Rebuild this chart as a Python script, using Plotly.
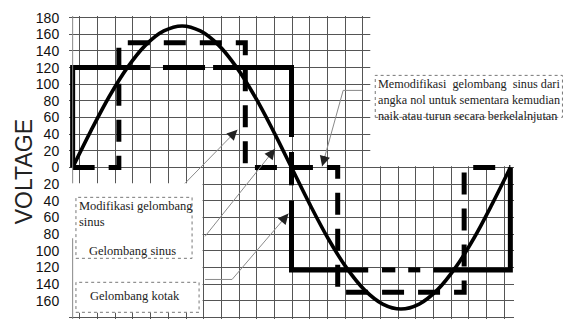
import plotly.graph_objects as go

# phase in degrees, voltage in volts
sine_deg = [0, 15, 30, 45, 60, 75, 90, 105, 120, 135, 150, 165, 180,
            195, 210, 225, 240, 255, 270, 285, 300, 315, 330, 345, 360]
sine_v = [0, 44, 85, 120, 147, 164, 170, 164, 147, 120, 85, 44, 0,
          -44, -85, -120, -147, -164, -170, -164, -147, -120, -85, -44, 0]

# modified sine (stepped), dashed
mod_deg = [0, 38, 38, 142, 142, 218, 218, 322, 322, 360]
mod_v = [0, 0, 150, 150, 0, 0, -150, -150, 0, 0]

# square wave, solid (the scan has small breaks in it)
sq_deg = [0, 0, 63.6, None, 74.3, 108.9, None, 115.5, 180, 180, None, 180, 180, None,
          180, 180, 243.1, None, 254.4, 265.4, None, 276, 285.9, None, 296.6, 360, 360]
sq_v = [0, 120, 120, None, 120, 120, None, 120, 120, 36.6, None, 18.6, -21.4, None,
        -39.5, -123, -123, None, -123, -123, None, -123, -123, None, -123, -123, 0]

y_ticks = list(range(-180, 181, 20))
y_labels = [str(abs(v)) for v in y_ticks]

W, H = 571, 323
ML, MR, MT, MB = 69.06, 57.4, 15.6, 4.3
PW, PH = W - ML - MR, H - MT - MB


def px(x):
    return (x - ML) / PW


def py(y):
    return (H - MB - y) / PH


fig = go.Figure()
fig.add_trace(go.Scatter(x=sine_deg, y=sine_v, mode='lines', line=dict(color='black', width=3.6, shape='spline'),
                         showlegend=False, hoverinfo='skip'))
fig.add_trace(go.Scatter(x=mod_deg, y=mod_v, mode='lines', line=dict(color='black', width=5, dash='22px,14px'),
                         showlegend=False, hoverinfo='skip'))
fig.add_trace(go.Scatter(x=sq_deg, y=sq_v, mode='lines', line=dict(color='black', width=5),
                         connectgaps=False, showlegend=False, hoverinfo='skip'))

# blank areas where the scanned grid is cut away
blank = dict(type='rect', xref='x', yref='y', fillcolor='white', line=dict(width=0), layer='between')
fig.add_shape(x0=244.8, x1=380, y0=1.5, y1=190, **blank)
fig.add_shape(x0=-10, x1=106.9, y0=-174.5, y1=-19, **blank)

# left border bits
edge = dict(type='line', xref='x', yref='y', line=dict(color='#888', width=1))
fig.add_shape(x0=0, x1=0, y0=-19, y1=182, **edge)
fig.add_shape(x0=0, x1=0, y0=-85, y1=-182, **edge)

# dotted caption boxes
box = dict(type='rect', xref='paper', yref='paper', line=dict(color='#777', width=1, dash='dot'), layer='above')
fig.add_shape(x0=px(76), x1=px(192), y0=py(258), y1=py(197), **box)
fig.add_shape(x0=px(76), x1=px(199), y0=py(312), y1=py(282), **box)
fig.add_shape(x0=px(375), x1=px(562), y0=py(117), y1=py(75), **box)

# leader lines (thin grey)
lead = dict(type='path', xref='x', yref='y', line=dict(color='#8a8a8a', width=1), layer='above')
fig.add_shape(path='M 92.4,-19 L 135.5,45.3', **lead)
fig.add_shape(path='M 108.9,-82.7 L 166.5,22.5', **lead)
fig.add_shape(path='M 108.9,-134.5 L 131.1,-134.5 L 177.5,-55.4', **lead)
fig.add_shape(path='M 238.2,92.6 L 222.5,92.6 L 205.2,1.4', **lead)

# arrow heads
for hx, hy, ax, ay in [(135.5, 45.3, -8.4, 8.6), (166.5, 22.5, -7.5, 9.4),
                       (177.5, -55.4, -7.8, 9.1), (205.2, 1.4, 3.2, -11.6)]:
    fig.add_annotation(x=hx, y=hy, xref='x', yref='y', ax=ax, ay=ay, text='', showarrow=True,
                       arrowhead=2, arrowsize=1.6, arrowwidth=1.3, arrowcolor='#222')

serif = dict(family='Liberation Serif, Times New Roman, serif', color='#222')
fig.add_annotation(x=px(77), y=py(197), xref='paper', yref='paper', xanchor='left', yanchor='top',
                   text='Modifikasi gelombang<br>sinus', align='left', showarrow=False,
                   font=dict(size=12.5, **serif))
fig.add_annotation(x=px(87), y=py(251), xref='paper', yref='paper', xanchor='left', yanchor='middle',
                   text='Gelombang sinus', showarrow=False, font=dict(size=12.5, **serif))
fig.add_annotation(x=px(88), y=py(296), xref='paper', yref='paper', xanchor='left', yanchor='middle',
                   text='Gelombang kotak', showarrow=False, font=dict(size=12.5, **serif))
fig.add_annotation(x=px(376), y=py(75), xref='paper', yref='paper', xanchor='left', yanchor='top',
                   text='Memodifikasi&nbsp; gelombang&nbsp; sinus dari<br>angka nol untuk sementara kemudian'
                        '<br>naik atau turun secara berkelalnjutan',
                   align='left', showarrow=False, font=dict(size=12.2, **serif))

fig.add_annotation(x=px(24), y=py(171), xref='paper', yref='paper', xanchor='center', yanchor='middle',
                   text='VOLTAGE', textangle=-90, showarrow=False,
                   font=dict(family='Liberation Sans, Arial', size=23, color='#222'))

fig.update_layout(
    width=W, height=H,
    margin=dict(l=ML, r=MR, t=MT, b=MB),
    paper_bgcolor='white', plot_bgcolor='white',
    showlegend=False,
    xaxis=dict(range=[-3, 363], showticklabels=False, ticks='', showgrid=True, gridcolor='#555',
               gridwidth=1, tick0=6, dtick=14.54, zeroline=False, showline=False),
    yaxis=dict(range=[-182, 182], tickvals=y_ticks, ticktext=y_labels, showgrid=True, gridcolor='#555',
               gridwidth=1, zeroline=False, showline=False, ticks='outside', ticklen=6,
               tickcolor='rgba(0,0,0,0)', tickfont=dict(family='Liberation Sans, Arial', size=14, color='#111')),
)

fig.write_html("out.html", config={'displayModeBar': False},
               post_script="document.body.style.margin='0px';")
